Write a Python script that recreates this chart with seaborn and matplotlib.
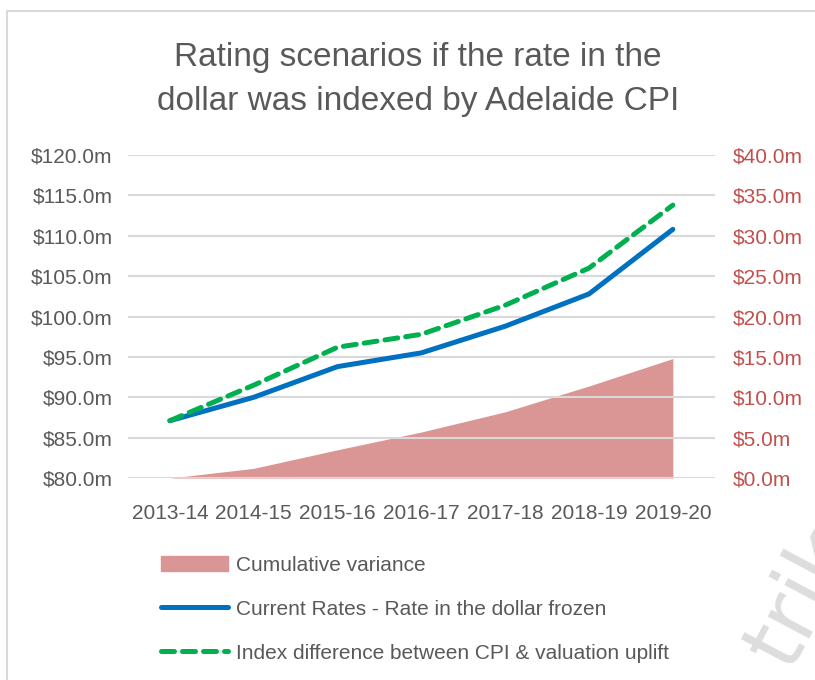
import matplotlib
matplotlib.use("Agg")
import matplotlib.pyplot as plt
import seaborn as sns
import pandas as pd
from matplotlib.patches import Rectangle
from matplotlib.lines import Line2D
from matplotlib.ticker import FuncFormatter

# data
years = ["2013-14", "2014-15", "2015-16", "2016-17", "2017-18", "2018-19", "2019-20"]
current_rates = [87.1, 90.0, 93.8, 95.5, 98.8, 102.8, 110.8]
cpi_index = [87.1, 91.5, 96.2, 97.8, 101.4, 106.0, 113.8]
cum_variance = [0.0, 1.2, 3.5, 5.7, 8.2, 11.4, 14.8]

sns.set_theme(style="white")
plt.rcParams["font.family"] = ["Liberation Sans Narrow", "Liberation Sans", "DejaVu Sans"]

grey = "#595959"
red = "#C0504D"
blue = "#0070C0"
green = "#00B050"
pink = "#D99694"

df = pd.DataFrame({"x": range(len(years)), "current": current_rates,
                   "cpi": cpi_index, "var": cum_variance})

fig = plt.figure(figsize=(8.15, 6.8), dpi=100)
ax = fig.add_axes([0.157, 0.297, 0.72, 0.475])
ax2 = ax.twinx()

# area on secondary axis
ax2.fill_between(df["x"], 0, df["var"], color=pink, lw=0, zorder=1)
ax2.set_ylim(0, 40)
ax2.set_yticks(range(0, 41, 5))
ax2.yaxis.set_major_formatter(FuncFormatter(lambda v, p: f"${v:.1f}m"))
ax2.tick_params(axis="y", colors=red, labelsize=15, length=0, pad=13)

# lines on primary axis, drawn above the area
ax.set_zorder(ax2.get_zorder() + 1)
ax.patch.set_visible(False)
ax.set_ylim(80, 120)
ax.set_yticks(range(80, 121, 5))
for v in range(80, 121, 5):
    ax.axhline(v, color="#D9D9D9", lw=1.5, zorder=0)
sns.lineplot(data=df, x="x", y="current", ax=ax, color=blue, lw=3.6,
             solid_capstyle="round", zorder=3)
sns.lineplot(data=df, x="x", y="cpi", ax=ax, color=green, lw=3.6,
             dashes=False, zorder=4)
ax.lines[-1].set_dashes((2.6, 1.6))
ax.lines[-1].set_dash_capstyle("round")
ax.set_xlim(-0.5, len(years) - 0.5)
ax.set_xticks(range(len(years)))
ax.set_xticklabels(years)
ax.yaxis.set_major_formatter(FuncFormatter(lambda v, p: f"${v:.1f}m"))
ax.tick_params(axis="y", colors=grey, labelsize=15, length=0, pad=11)
ax.tick_params(axis="x", colors=grey, labelsize=15, length=0, pad=19)
ax.set_xlabel("")
ax.set_ylabel("")
ax2.set_ylabel("")
for a in (ax, ax2):
    for s in a.spines.values():
        s.set_visible(False)

fig.text(0.513, 0.883, "Rating scenarios if the rate in the\ndollar was indexed by Adelaide CPI",
         ha="center", va="center", fontsize=24, color=grey, linespacing=1.55)

handles = [Rectangle((0, 0), 1, 1, color=pink),
           Line2D([], [], color=blue, lw=3.6, solid_capstyle="round"),
           Line2D([], [], color=green, lw=3.6, dashes=(2.6, 1.6), dash_capstyle="round")]
labels = ["Cumulative variance", "Current Rates - Rate in the dollar frozen",
          "Index difference between CPI & valuation uplift"]
fig.legend(handles, labels, loc="upper left", bbox_to_anchor=(0.185, 0.198),
           frameon=False, fontsize=15, labelcolor=grey, handlelength=3.2,
           handleheight=0.7, handletextpad=0.4, labelspacing=1.2, borderpad=0)

# chart border and watermark
fig.patches.append(Rectangle((0.009, -0.1), 1.2, 1.084, transform=fig.transFigure,
                             fill=False, ec="#D9D9D9", lw=1.5))
fig.text(0.985, 0.0, "trik", rotation=62, fontsize=62, color="#DDDDDD",
         ha="center", va="bottom", family=["DejaVu Sans"])

fig.savefig("out.png", dpi=100)
